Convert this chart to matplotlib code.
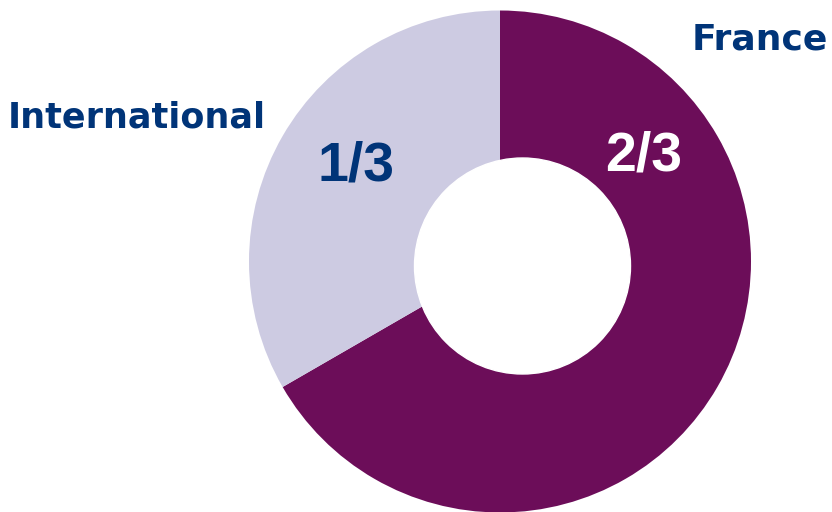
import matplotlib.pyplot as plt
from matplotlib.patches import Circle

# données
regions = ["France", "International"]
parts = [2, 1]
part_labels = ["2/3", "1/3"]
colors = ["#6c0d59", "#cdcbe2"]
navy = "#003478"

plt.rcParams['font.family'] = ['Liberation Sans', 'DejaVu Sans']

fig = plt.figure(figsize=(8.32, 5.12), dpi=100)
ax = fig.add_axes([0, 0, 1, 1])

# camembert
ax.pie(parts, colors=colors, startangle=90, counterclock=False,
       center=(500, 250.5), radius=251, frame=True)
ax.set_xlim(0, 832)
ax.set_ylim(0, 512)
ax.set_aspect('equal')
ax.axis('off')

# trou (décalé comme dans l'original)
ax.add_patch(Circle((522.5, 246), 108, color="white", zorder=5))

# étiquettes
ax.text(828, 463, regions[0], ha='right', va='baseline', fontsize=26,
        fontweight='bold', color=navy, family='DejaVu Sans')
ax.text(8, 385, regions[1], ha='left', va='baseline', fontsize=25.2,
        fontweight='bold', color=navy, family='DejaVu Sans')
ax.text(644, 341, part_labels[0], ha='center', va='baseline', fontsize=40,
        fontweight='bold', color='white', zorder=6)
ax.text(356, 331, part_labels[1], ha='center', va='baseline', fontsize=40,
        fontweight='bold', color=navy, zorder=6)

fig.savefig("out.png", dpi=100)
